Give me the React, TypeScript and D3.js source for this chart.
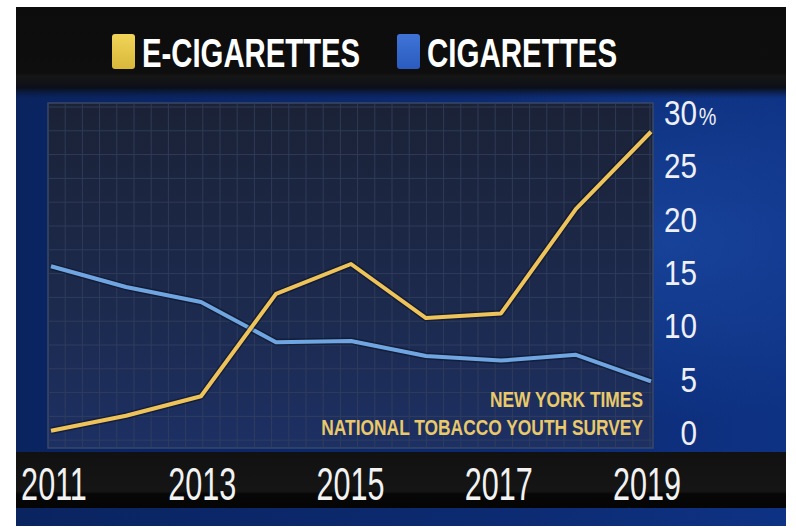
import React from "react";
import * as d3 from "d3";

const years = [2011, 2012, 2013, 2014, 2015, 2016, 2017, 2018, 2019];
const eCigarettes = [1.5, 2.8, 4.5, 13.4, 16.0, 11.3, 11.7, 20.8, 27.5];
const cigarettes = [15.8, 14.0, 12.7, 9.2, 9.3, 8.0, 7.6, 8.1, 5.8];
const yTicks = [0, 5, 10, 15, 20, 25, 30];
const xTicks = [2011, 2013, 2015, 2017, 2019];
const seriesNames = ["E-CIGARETTES", "CIGARETTES"];
const sourceLines = ["NEW YORK TIMES", "NATIONAL TOBACCO YOUTH SURVEY"];

const W = 796;
const H = 531;
const plot = { left: 48, right: 653, top: 103, bottom: 448 };
const font = "'Liberation Sans', Arial, sans-serif";

function CText({
  x,
  y,
  sx,
  anchor = "start",
  size,
  weight = "normal",
  fill,
  children,
}: {
  x: number;
  y: number;
  sx: number;
  anchor?: string;
  size: number;
  weight?: string;
  fill: string;
  children: React.ReactNode;
}) {
  return (
    <text
      transform={`translate(${x},${y}) scale(${sx},1)`}
      textAnchor={anchor}
      fontFamily={font}
      fontSize={size}
      fontWeight={weight}
      fill={fill}
    >
      {children}
    </text>
  );
}

export default function App() {
  const x = d3.scaleLinear().domain([2011, 2019]).range([51, 651]);
  const y = d3.scaleLinear().domain([0, 30]).range([plot.bottom, plot.top]);
  const xLabel = d3.scaleLinear().domain([2011, 2019]).range([54, 647]);
  const yLabel = d3.scaleLinear().domain([0, 30]).range([445, 125]);

  const line = d3
    .line<number>()
    .x((_, i) => x(years[i]))
    .y((d) => y(d));

  const vGrid = d3.range(plot.left + 17.2, plot.right, 17.2);
  const hGrid = d3.range(plot.top + 4, plot.bottom, 23.8);

  return (
    <svg
      width={W}
      height={H}
      style={{ position: "absolute", left: 0, top: 0, background: "#fff" }}
    >
      <defs>
        <linearGradient id="panelBg" x1="0" y1="0" x2="1" y2="0">
          <stop offset="0" stopColor="#0a2460" />
          <stop offset="0.6" stopColor="#0c2a70" />
          <stop offset="1" stopColor="#0e3284" />
        </linearGradient>
        <radialGradient id="glow" cx="0.85" cy="0.45" r="0.35">
          <stop offset="0" stopColor="#1f52b0" stopOpacity="0.55" />
          <stop offset="1" stopColor="#1f52b0" stopOpacity="0" />
        </radialGradient>
        <linearGradient id="plotBg" x1="0" y1="0" x2="0" y2="1">
          <stop offset="0" stopColor="#1b2236" />
          <stop offset="0.6" stopColor="#1c2a4e" />
          <stop offset="1" stopColor="#1d3064" />
        </linearGradient>
        <linearGradient id="topBand" x1="0" y1="0" x2="0" y2="1">
          <stop offset="0" stopColor="#0c0c0c" />
          <stop offset="0.72" stopColor="#0e0e0e" />
          <stop offset="0.75" stopColor="#161616" />
          <stop offset="0.88" stopColor="#0b0f18" />
          <stop offset="1" stopColor="#0a1d4a" stopOpacity="0" />
        </linearGradient>
        <linearGradient id="botBand" x1="0" y1="0" x2="0" y2="1">
          <stop offset="0" stopColor="#111" />
          <stop offset="0.7" stopColor="#151515" />
          <stop offset="0.75" stopColor="#070707" />
          <stop offset="1" stopColor="#050505" />
        </linearGradient>
        <linearGradient id="yelSq" x1="0" y1="0" x2="0" y2="1">
          <stop offset="0" stopColor="#f0d458" />
          <stop offset="1" stopColor="#d9b83a" />
        </linearGradient>
        <linearGradient id="bluSq" x1="0" y1="0" x2="0" y2="1">
          <stop offset="0" stopColor="#3f74d6" />
          <stop offset="1" stopColor="#2b5bbf" />
        </linearGradient>
      </defs>

      {/* panel */}
      <rect x={16} y={7} width={770} height={519} fill="url(#panelBg)" />
      <rect x={16} y={7} width={770} height={519} fill="url(#glow)" />

      {/* top band */}
      <rect x={16} y={7} width={770} height={92} fill="url(#topBand)" />

      {/* plot area */}
      <rect
        x={plot.left}
        y={plot.top}
        width={plot.right - plot.left}
        height={plot.bottom - plot.top}
        fill="url(#plotBg)"
        stroke="#3a4868"
        strokeWidth={1.5}
      />
      <g stroke="#34405e" strokeWidth={1} opacity={0.8}>
        {vGrid.map((gx, i) => (
          <line key={"v" + i} x1={gx} x2={gx} y1={plot.top} y2={plot.bottom} />
        ))}
        {hGrid.map((gy, i) => (
          <line key={"h" + i} x1={plot.left} x2={plot.right} y1={gy} y2={gy} />
        ))}
      </g>

      {/* source */}
      <CText x={643} y={407} sx={0.79} anchor="end" size={22} weight="bold" fill="#e9c96a">
        {sourceLines[0]}
      </CText>
      <CText x={643} y={435} sx={0.79} anchor="end" size={22} weight="bold" fill="#e9c96a">
        {sourceLines[1]}
      </CText>

      {/* lines */}
      {[cigarettes, eCigarettes].map((s, i) => (
        <g key={i}>
          <path
            d={line(s) || ""}
            fill="none"
            stroke="#0d1428"
            strokeOpacity={0.6}
            strokeWidth={7}
            strokeLinejoin="round"
          />
          <path
            d={line(s) || ""}
            fill="none"
            stroke={i === 0 ? "#6fa6e2" : "#eec45a"}
            strokeWidth={4}
            strokeLinejoin="round"
          />
        </g>
      ))}

      {/* y labels */}
      {yTicks.map((t) =>
        t === 30 ? (
          <CText key={t} x={664} y={yLabel(t)} sx={0.825} size={36} fill="#eef0f6">
            {t}
            <tspan fontSize={24} dx={2}>%</tspan>
          </CText>
        ) : (
          <CText key={t} x={697} y={yLabel(t)} sx={0.825} anchor="end" size={36} fill="#eef0f6">
            {t}
          </CText>
        )
      )}

      {/* bottom band */}
      <rect x={16} y={452} width={770} height={56} fill="url(#botBand)" />
      {xTicks.map((t) => (
        <CText key={t} x={xLabel(t)} y={500} sx={0.665} anchor="middle" size={46} fill="#f2f2f2">
          {t}
        </CText>
      ))}

      {/* legend */}
      <rect x={112} y={34} width={23} height={35} rx={3} fill="url(#yelSq)" />
      <rect x={397} y={34} width={23} height={35} rx={3} fill="url(#bluSq)" />
      <CText x={142} y={67} sx={0.715} size={41} weight="bold" fill="#ffffff">
        {seriesNames[0]}
      </CText>
      <CText x={427} y={67} sx={0.72} size={41} weight="bold" fill="#ffffff">
        {seriesNames[1]}
      </CText>
    </svg>
  );
}
